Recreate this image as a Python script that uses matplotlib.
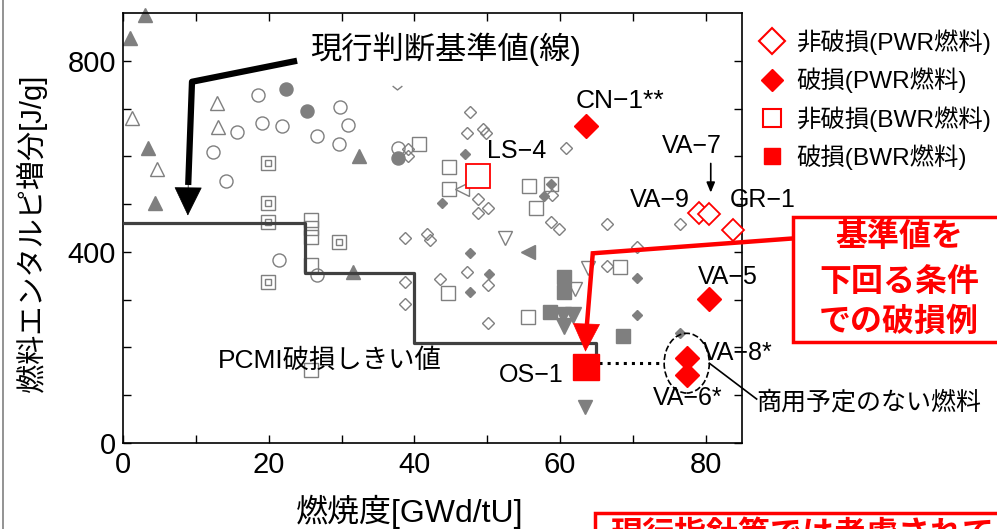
import matplotlib
matplotlib.use("Agg")
import matplotlib.pyplot as plt
from matplotlib.lines import Line2D
from matplotlib.patches import Ellipse, Rectangle
from matplotlib.path import Path

plt.rcParams['font.family'] = ['Liberation Sans', 'Noto Sans CJK JP', 'DejaVu Sans']

# --- gray background data (other tests) ---
open_circle_x = [12.3, 14.2, 15.6, 18.5, 19.1, 21.8, 26.6, 29.8, 30.9, 29.6, 37.7, 21.4, 26.6]
open_circle_y = [610, 549, 650, 728, 670, 664, 643, 703, 666, 626, 618, 384, 351]
filled_circle_x = [22.4, 25.2, 37.7]
filled_circle_y = [741, 695, 597]
open_tri_up_x = [1.2, 4.7, 12.9, 13.0]
open_tri_up_y = [681, 574, 712, 662]
filled_tri_up_x = [3.0, 1.0, 3.4, 4.4, 32.4, 31.6]
filled_tri_up_y = [895, 848, 618, 503, 601, 357]
open_tri_down_x = [52.5, 63.9, 62.0]
open_tri_down_y = [428, 367, 323]
filled_tri_down_x = [63.5, 60.4, 61.8, 60.6]
filled_tri_down_y = [75, 268, 268, 245]
open_tri_left_x = [46.5]
open_tri_left_y = [532]
filled_tri_left_x = [55.6]
filled_tri_left_y = [399]
chevron_x = [37.6]
chevron_y = [743]
open_square_x = [40.7, 44.7, 44.7, 55.7, 58.7, 56.7, 68.2, 44.6, 55.6, 25.8, 25.8, 25.8, 25.8, 25.8]
open_square_y = [626, 578, 532, 537, 541, 491, 368, 313, 263, 466, 449, 432, 372, 152]
double_square_x = [19.9, 19.9, 19.9, 29.6, 19.9]
double_square_y = [585, 503, 462, 420, 336]
filled_square_x = [60.5, 60.5, 58.6, 68.6]
filled_square_y = [347, 315, 274, 223]
open_diamond_x = [39.1, 39.1, 47.6, 47.2, 49.4, 49.8, 48.7, 50.1, 48.7, 38.7, 41.8, 42.1, 58.9,
                  58.7, 59.8, 60.8, 66.5, 70.6, 76.5, 66.5, 43.5, 47.2, 50.1, 50.1, 38.7, 38.7]
open_diamond_y = [616, 601, 693, 649, 658, 649, 511, 491, 482, 430, 438, 424, 518,
                  463, 447, 618, 459, 411, 459, 371, 344, 357, 330, 251, 336, 290]
filled_diamond_x = [47.0, 43.8, 57.8, 58.7, 47.7, 50.2, 47.7, 70.6, 70.6, 76.5]
filled_diamond_y = [605, 503, 516, 541, 397, 353, 315, 345, 267, 230]

# --- highlighted tests (red) ---
pwr_fail_names = ['CN−1**', 'VA−5', 'VA−8*', 'VA−6*']
pwr_fail_x = [63.6, 80.5, 77.5, 77.5]
pwr_fail_y = [664, 301, 177, 142]
pwr_ok_names = ['VA−9', 'VA−7', 'GR−1']
pwr_ok_x = [79.1, 80.5, 83.7]
pwr_ok_y = [482, 480, 445]
bwr_ok_names = ['LS−4']
bwr_ok_x = [48.7]
bwr_ok_y = [559]
bwr_fail_names = ['OS−1']
bwr_fail_x = [63.6]
bwr_fail_y = [159]

# current PCMI failure threshold (step line)
crit_x = [0, 25, 25, 40, 40, 65, 65]
crit_y = [460, 460, 356, 356, 209, 209, 170]

legend_labels = ['非破損(PWR燃料)', '破損(PWR燃料)', '非破損(BWR燃料)', '破損(BWR燃料)']

GRAY = '#7f7f7f'
RED = '#ff0000'

fig = plt.figure(figsize=(9.97, 5.29), dpi=100)
ax = fig.add_axes([0.1234, 0.1626, 0.6209, 0.8129])

kw_open = dict(ls='none', mfc='none', mec=GRAY, mew=1.0, clip_on=False)
kw_fill = dict(ls='none', mfc=GRAY, mec=GRAY, mew=1.0, clip_on=False)

ax.plot(open_circle_x, open_circle_y, 'o', ms=9.4, **kw_open)
ax.plot(filled_circle_x, filled_circle_y, 'o', ms=9.4, **kw_fill)
ax.plot(open_tri_up_x, open_tri_up_y, '^', ms=10.5, **kw_open)
ax.plot(filled_tri_up_x, filled_tri_up_y, '^', ms=10.5, **kw_fill)
ax.plot(open_tri_down_x, open_tri_down_y, 'v', ms=10, **kw_open)
ax.plot(filled_tri_down_x[:1], filled_tri_down_y[:1], 'v', ms=9.5, **kw_fill)
ax.plot(filled_tri_down_x[1:], filled_tri_down_y[1:], 'v', ms=12, **kw_fill)
ax.plot(open_tri_left_x, open_tri_left_y, '<', ms=10, **kw_open)
ax.plot(filled_tri_left_x, filled_tri_left_y, '<', ms=10, **kw_fill)
chevron = Path([(-1, 0.5), (0, -0.3), (1, 0.5)], [Path.MOVETO, Path.LINETO, Path.LINETO])
ax.plot(chevron_x, chevron_y, marker=chevron, ms=7, **kw_open)
ax.plot(open_square_x, open_square_y, 's', ms=9.4, **kw_open)
ax.plot(double_square_x, double_square_y, 's', ms=9.4, **kw_open)
ax.plot(double_square_x, double_square_y, 's', ms=4, **kw_open)
ax.plot(filled_square_x, filled_square_y, 's', ms=9.4, **kw_fill)
ax.plot(open_diamond_x, open_diamond_y, 'D', ms=6.6, **kw_open)
ax.plot(filled_diamond_x, filled_diamond_y, 'D', ms=5.5, **kw_fill)

# threshold line
ax.plot(crit_x, crit_y, color='#404040', lw=2.3, zorder=3)

# red highlighted points
ax.plot(pwr_ok_x, pwr_ok_y, 'D', ms=11.7, mfc='white', mec=RED, mew=1.3, ls='none', zorder=5, clip_on=False)
ax.plot(pwr_fail_x, pwr_fail_y, 'D', ms=12.5, mfc=RED, mec=RED, ls='none', zorder=5, clip_on=False)
ax.plot(bwr_ok_x, bwr_ok_y, 's', ms=17, mfc='white', mec=RED, mew=1.3, ls='none', zorder=5, clip_on=False)
ax.plot(bwr_fail_x, bwr_fail_y, 's', ms=18.5, mfc=RED, mec=RED, ls='none', zorder=5, clip_on=False)

# point labels
label_fs = 18
ax.text(68.3, 716, pwr_fail_names[0], fontsize=19, ha='center', va='center')
ax.text(83.0, 347, pwr_fail_names[1], fontsize=label_fs, ha='center', va='center')
ax.text(84.4, 188, pwr_fail_names[2], fontsize=label_fs, ha='center', va='center')
ax.text(77.5, 94, pwr_fail_names[3], fontsize=label_fs, ha='center', va='center')
ax.text(73.7, 509, pwr_ok_names[0], fontsize=label_fs, ha='center', va='center')
ax.text(78.1, 622, pwr_ok_names[1], fontsize=label_fs, ha='center', va='center')
ax.text(87.9, 509, pwr_ok_names[2], fontsize=label_fs, ha='center', va='center')
ax.text(54.0, 612, bwr_ok_names[0], fontsize=label_fs, ha='center', va='center')
ax.text(56.1, 142, bwr_fail_names[0], fontsize=label_fs, ha='center', va='center')
ax.annotate('', xy=(80.7, 524), xytext=(80.7, 585),
            arrowprops=dict(arrowstyle='-|>,head_width=0.25,head_length=0.6', color='black',
                            lw=1.2, shrinkA=0, shrinkB=0))

ax.text(13.0, 173, 'PCMI破損しきい値', fontsize=19, ha='left', va='center')
ax.text(25.7, 825, '現行判断基準値(線)', fontsize=22.5, ha='left', va='center')

# black arrow to the threshold line
ax.plot([23.9, 9.47, 8.95], [800, 756, 540], color='black', lw=4.5, solid_capstyle='butt', zorder=6)
ax.annotate('', xy=(8.9, 476), xytext=(8.95, 545),
            arrowprops=dict(arrowstyle='-|>,head_width=0.47,head_length=0.97', color='black',
                            lw=0.5, shrinkA=0, shrinkB=0, mutation_scale=20), zorder=6)

# unplanned commercial fuel circle
ax.add_patch(Ellipse((77.4, 167), 6.2, 125, fill=False, ls='--', lw=1.2, color='black', zorder=6))
ax.plot([65.4, 74.3], [167, 167], ls=':', lw=2.2, color='black', zorder=4)
ax.plot([80.5, 87.0], [167, 92], color='black', lw=1.2, clip_on=False)
ax.text(87.0, 84, '商用予定のない燃料', fontsize=18, ha='left', va='center')

# red arrow from the box
ax.plot([91.9, 64.5, 63.6], [428, 397, 230], color=RED, lw=3.2, clip_on=False, zorder=7,
        solid_joinstyle='miter')
ax.annotate('', xy=(63.5, 191), xytext=(63.6, 235),
            arrowprops=dict(arrowstyle='-|>,head_width=0.47,head_length=0.97', color=RED,
                            lw=0.5, shrinkA=0, shrinkB=0, mutation_scale=20), zorder=7)

ax.set_xlim(0, 85)
ax.set_ylim(0, 900)
ax.set_xticks([0, 20, 40, 60, 80])
ax.set_xticks(range(10, 85, 20), minor=True)
ax.set_yticks([0, 400, 800])
ax.set_yticks([100, 200, 300, 500, 600, 700], minor=True)
ax.tick_params(which='both', direction='in', top=True, right=True, length=5.5, width=1.0)
ax.tick_params(axis='both', labelsize=21)
ax.tick_params(axis='y', pad=5)
ax.tick_params(axis='x', pad=6)
for s in ax.spines.values():
    s.set_linewidth(1.2)

fig.text(0.4112, 0.0321, '燃焼度[GWd/tU]', fontsize=23, ha='center', va='center')
fig.text(0.032, 0.5595, '燃料エンタルピ増分[J/g]', fontsize=21, ha='center', va='center', rotation=90)

# legend
handles = [
    Line2D([], [], marker='D', ls='none', ms=13.5, mfc='white', mec=RED, mew=1.5),
    Line2D([], [], marker='D', ls='none', ms=11.5, mfc=RED, mec=RED),
    Line2D([], [], marker='s', ls='none', ms=12.5, mfc='white', mec=RED, mew=1.5),
    Line2D([], [], marker='s', ls='none', ms=12, mfc=RED, mec=RED),
]
fig.legend(handles, legend_labels, loc='upper left', bbox_to_anchor=(0.762, 0.945),
           frameon=False, fontsize=17.6, handlelength=1.0, handletextpad=0.5,
           labelspacing=0.52, borderpad=0, borderaxespad=0)

# red callout boxes
fig.add_artist(Rectangle((0.7954, 0.3535), 0.25, 0.2363, transform=fig.transFigure,
                         fill=True, fc='white', ec=RED, lw=2.5, zorder=8))
for ty, line in zip([0.550, 0.465, 0.391], ['基準値を', '下回る条件', 'での破損例']):
    fig.text(0.9017, ty, line, fontsize=23, color=RED, weight='bold', ha='center', va='center',
             zorder=9)
fig.add_artist(Rectangle((0.5968, -0.2), 0.45, 0.2302, transform=fig.transFigure,
                         fill=True, fc='white', ec=RED, lw=2.5, zorder=8))
fig.text(0.612, 0.0175, '現行指針等では考慮されていない', fontsize=23, color=RED, weight='bold',
         ha='left', va='top', zorder=9)

# left border of the slide
fig.add_artist(Line2D([0.003, 0.003], [0, 1], transform=fig.transFigure, color='#808080', lw=1.2))

fig.savefig('out.png', dpi=100)
